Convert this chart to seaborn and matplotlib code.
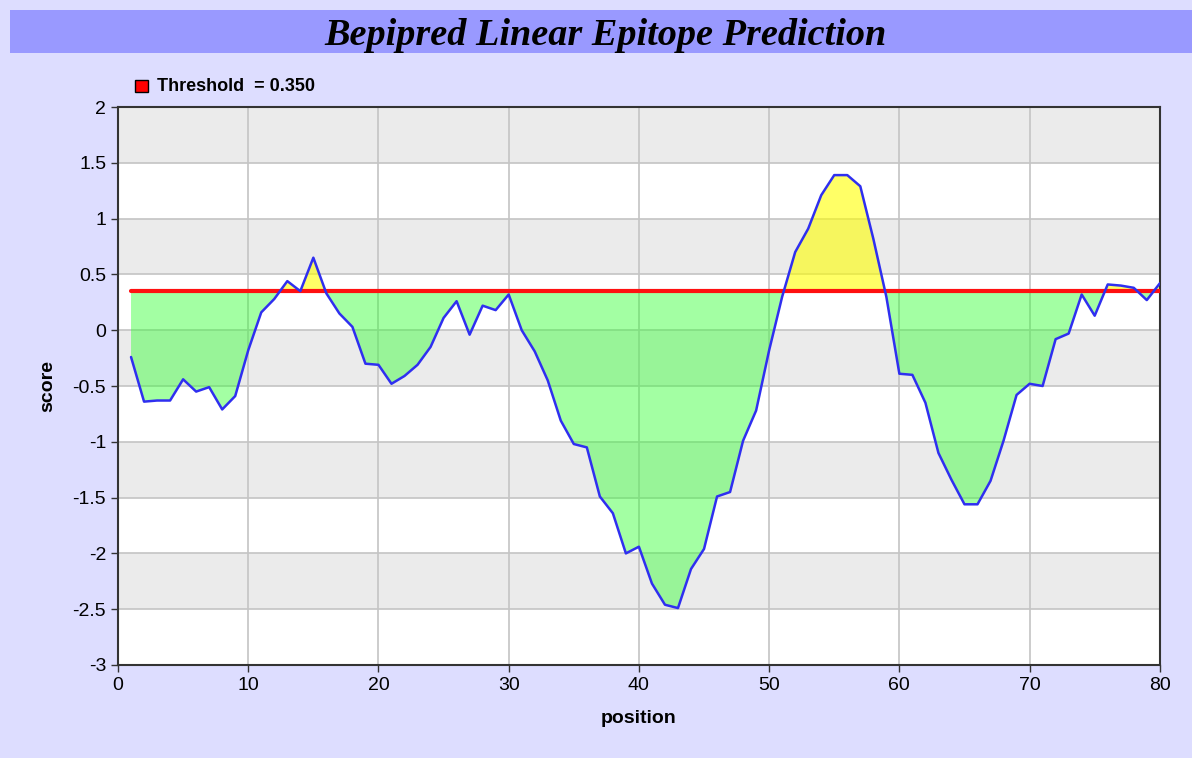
import numpy as np
import pandas as pd
import matplotlib.pyplot as plt
import seaborn as sns

# --- Bepipred scores (positions 1..80) ---
positions = list(range(1, 81))
scores = [
    -0.24, -0.64, -0.63, -0.63, -0.44, -0.55, -0.51, -0.71, -0.59, -0.18,
    0.16, 0.28, 0.44, 0.35, 0.65, 0.33, 0.15, 0.03, -0.30, -0.31,
    -0.48, -0.41, -0.31, -0.15, 0.11, 0.26, -0.04, 0.22, 0.18, 0.32,
    0.00, -0.19, -0.45, -0.81, -1.02, -1.05, -1.49, -1.64, -2.00, -1.94,
    -2.27, -2.46, -2.49, -2.14, -1.96, -1.49, -1.45, -0.99, -0.72, -0.18,
    0.30, 0.70, 0.91, 1.21, 1.39, 1.39, 1.29, 0.82, 0.30, -0.39,
    -0.40, -0.65, -1.10, -1.34, -1.56, -1.56, -1.35, -0.99, -0.58, -0.48,
    -0.50, -0.08, -0.03, 0.32, 0.13, 0.41, 0.40, 0.38, 0.27, 0.42,
]
threshold = 0.35

x_ticks = list(range(0, 81, 10))
y_ticks = [2, 1.5, 1, 0.5, 0, -0.5, -1, -1.5, -2, -2.5, -3]
y_tick_labels = ["2", "1.5", "1", "0.5", "0", "-0.5", "-1", "-1.5", "-2", "-2.5", "-3"]

df = pd.DataFrame({"position": positions, "score": scores})

sns.set_style("white")
plt.rcParams["font.family"] = ["Liberation Sans", "DejaVu Sans"]
plt.rcParams["text.color"] = "black"
plt.rcParams["axes.labelcolor"] = "black"

fig = plt.figure(figsize=(11.92, 7.58), dpi=100, facecolor="#DDDDFF")
ax = fig.add_axes([0.099, 0.1227, 0.874, 0.7361])

# title band
fig.patches.append(plt.Rectangle((0.008, 0.930), 0.992, 0.057, transform=fig.transFigure,
                                 facecolor="#9999FF", edgecolor="none", zorder=0))
fig.text(0.508, 0.953, "Bepipred Linear Epitope Prediction", ha="center", va="center",
         fontsize=27.5, fontweight="bold", fontstyle="italic", family="Liberation Serif",
         color="black")

# alternating background bands
for i, top in enumerate(np.arange(2, -3, -0.5)):
    ax.axhspan(top - 0.5, top, color="#EBEBEB" if i % 2 == 0 else "white", zorder=0, lw=0)

ax.grid(True, color="#C4C4C4", lw=1.2, zorder=1)
ax.set_axisbelow(True)

pos = df["position"].to_numpy()
sc = df["score"].to_numpy()
ax.fill_between(pos, sc, threshold, where=sc <= threshold, interpolate=True,
                color="#33FF33", alpha=0.45, lw=0, zorder=2)
ax.fill_between(pos, sc, threshold, where=sc >= threshold, interpolate=True,
                color="#FFFF00", alpha=0.6, lw=0, zorder=2)

ax.plot([pos[0], pos[-1]], [threshold, threshold], color="#FF1010", lw=3, zorder=3)
sns.lineplot(data=df, x="position", y="score", color="#2F2FF0", lw=1.8, ax=ax, zorder=4)

ax.set_xlim(0, 80)
ax.set_ylim(-3, 2)
ax.set_xticks(x_ticks)
ax.set_yticks(y_ticks)
ax.set_yticklabels(y_tick_labels)
ax.tick_params(axis="both", direction="out", length=5, width=1, labelsize=14,
               color="#333333", labelcolor="black", left=True, bottom=True)
ax.set_xlabel("position", fontsize=14, fontweight="bold", labelpad=12)
ax.set_ylabel("score", fontsize=14, fontweight="bold", labelpad=12)
for s in ax.spines.values():
    s.set_color("#333333")
    s.set_linewidth(1.5)

# legend entry above the plot
fig.patches.append(plt.Rectangle((0.1135, 0.878), 0.0105, 0.0165, transform=fig.transFigure,
                                 facecolor="#FF0000", edgecolor="black", lw=1, zorder=5))
fig.text(0.132, 0.886, "Threshold  = 0.350", ha="left", va="center",
         fontsize=13, fontweight="bold", color="black")

fig.savefig("out.png", dpi=100, facecolor=fig.get_facecolor())
